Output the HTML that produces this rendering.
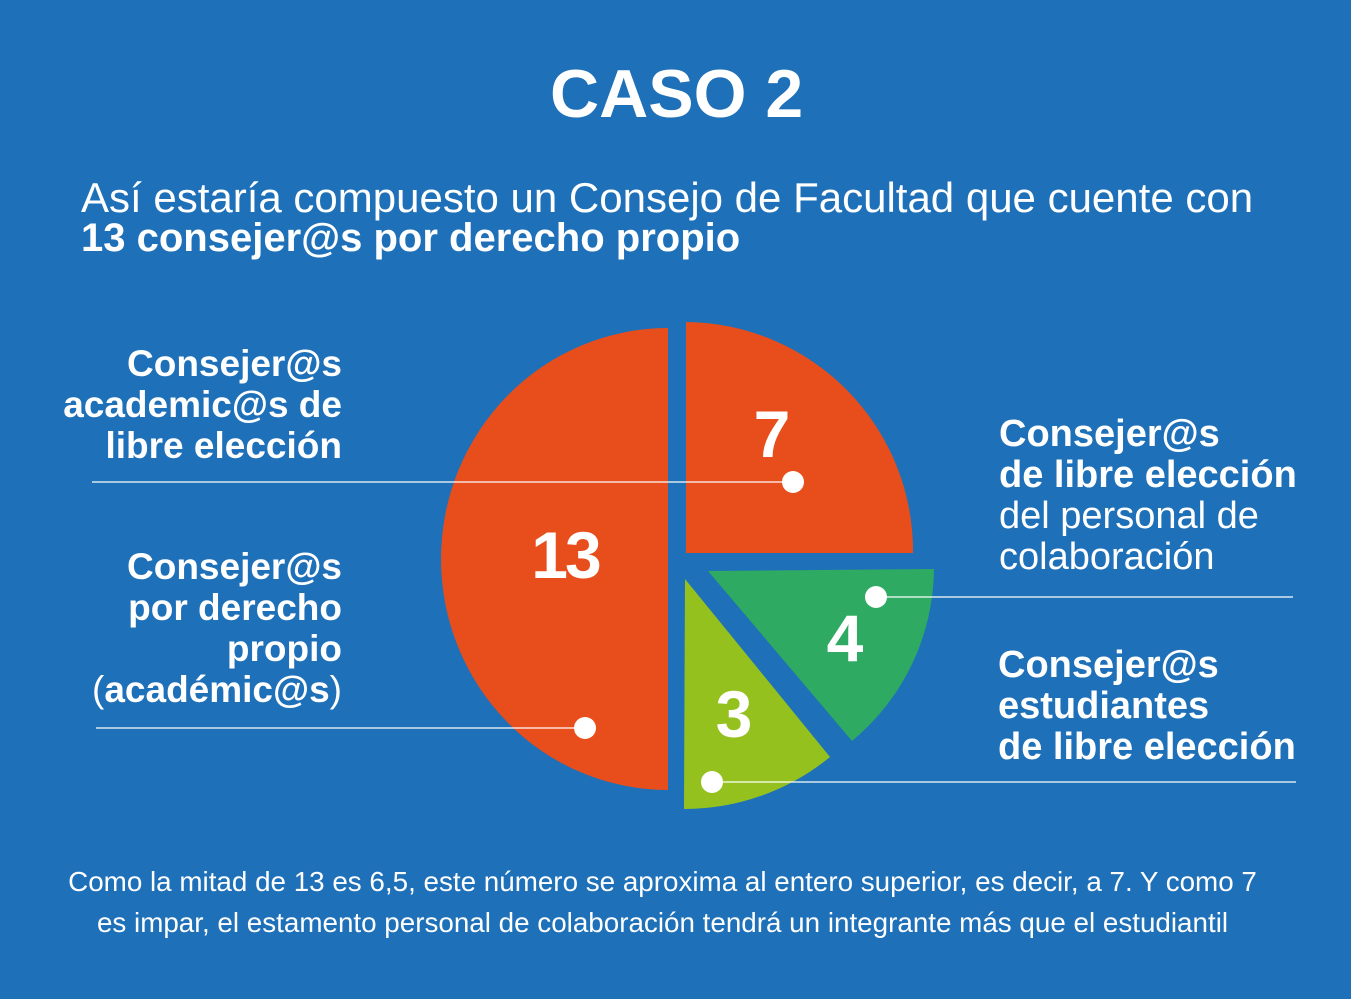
<!DOCTYPE html>
<html><head><meta charset="utf-8"><style>
body{margin:0;width:1351px;height:999px;background:#1e70b8;overflow:hidden;font-family:"Liberation Sans",sans-serif;color:#fff;position:relative}
.t{position:absolute;white-space:nowrap}
.b{font-weight:bold}
</style></head><body>
<svg width="1351" height="999" style="position:absolute;left:0;top:0">
<path d="M668,328 A227,231 0 0 0 668,790 Z" fill="#e84e1b"/>
<path d="M686,322 A229,229 0 0 1 913,553 L686,553 Z" fill="#e84e1b"/>
<path d="M708,571 L934,569 A226,226 0 0 1 852,741 Z" fill="#2eaa62"/>
<path d="M685,579 L830,757 A230,230 0 0 1 684,809 Z" fill="#95c11f"/>
<g stroke="#fff" stroke-width="1.3">
<line x1="92" y1="482" x2="793" y2="482"/>
<line x1="96" y1="728" x2="585" y2="728"/>
<line x1="876" y1="597" x2="1293" y2="597"/>
<line x1="712" y1="782" x2="1296" y2="782"/>
</g>
<g fill="#fff">
<circle cx="793" cy="482" r="11"/><circle cx="585" cy="728" r="11"/>
<circle cx="876" cy="597" r="11"/><circle cx="712" cy="782" r="11"/>
</g>
<g fill="#fff" font-family="Liberation Sans" font-weight="900" text-anchor="middle">
<text x="772" y="457" font-size="66">7</text>
<text x="565" y="578" font-size="66" letter-spacing="-3">13</text>
<text x="845" y="661" font-size="66">4</text>
<text x="734" y="737" font-size="66">3</text>
</g>
</svg>
<div class="t b" style="left:550px;top:55px;font-size:68px">CASO 2</div>
<div class="t" style="left:81px;top:174px;font-size:42px">Así estaría compuesto un Consejo de Facultad que cuente con</div>
<div class="t b" style="left:81px;top:216px;font-size:40px">13 consejer@s por derecho propio</div>
<div class="t b" style="right:1009px;top:343px;font-size:37px;line-height:41px;text-align:right">Consejer@s<br>academic@s de<br>libre elección</div>
<div class="t b" style="right:1009px;top:546px;font-size:37px;line-height:41px;text-align:right">Consejer@s<br>por derecho<br>propio<br><span style="font-weight:normal">(</span>académic@s<span style="font-weight:normal">)</span></div>
<div class="t" style="left:999px;top:414px;font-size:38px;line-height:41px"><b>Consejer@s<br>de libre elección</b><br>del personal de<br>colaboración</div>
<div class="t b" style="left:998px;top:645px;font-size:38px;line-height:41px">Consejer@s<br>estudiantes<br>de libre elección</div>
<div class="t" style="left:0;width:1325px;top:861px;font-size:27.8px;line-height:41px;text-align:center">Como la mitad de 13 es 6,5, este número se aproxima al entero superior, es decir, a 7. Y como 7<br>es impar, el estamento personal de colaboración tendrá un integrante más que el estudiantil</div>
</body></html>
